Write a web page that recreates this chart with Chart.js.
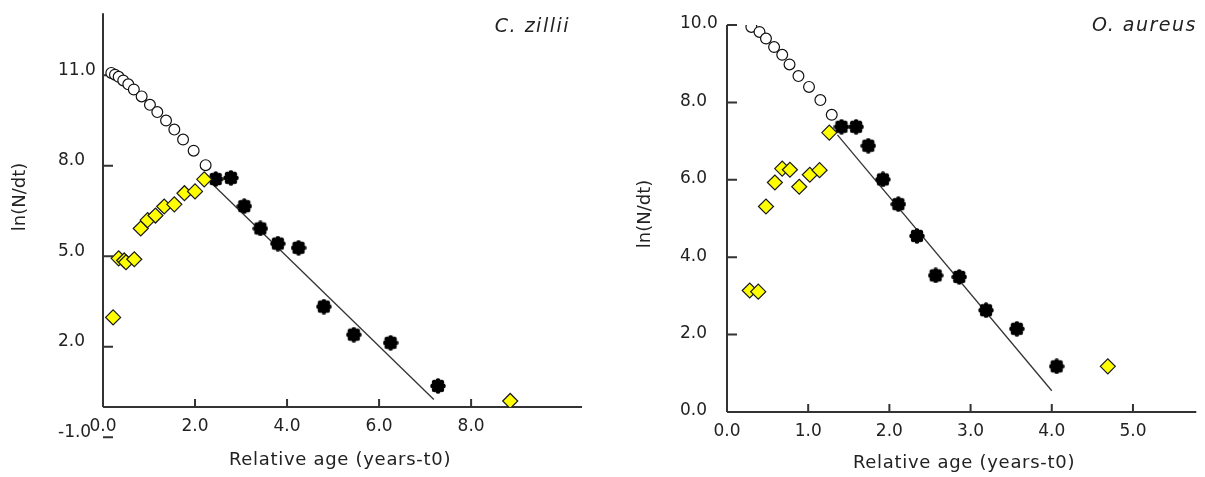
<!DOCTYPE html>
<html>
<head>
<meta charset="utf-8">
<title>Catch curves</title>
<script src="https://cdn.jsdelivr.net/npm/chart.js@4"></script>
<style>
  body { margin: 0; background: #fff; }
  .panel { position: absolute; top: 0; }
</style>
</head>
<body>
<div class="panel" style="left:0"><canvas id="zillii" width="600" height="477"></canvas></div>
<div class="panel" style="left:600px"><canvas id="aureus" width="605" height="477"></canvas></div>
<script>
// C. zillii
const czOpenX = [0.18, 0.26, 0.34, 0.44, 0.55, 0.67, 0.84, 1.02, 1.18, 1.37, 1.55, 1.74, 1.97, 2.23];
const czOpenY = [11.08, 11.02, 10.95, 10.83, 10.7, 10.53, 10.3, 10.02, 9.78, 9.5, 9.2, 8.87, 8.5, 8.02];
const czYellowX = [0.22, 0.34, 0.46, 0.5, 0.68, 0.82, 0.97, 1.14, 1.33, 1.55, 1.77, 2.0, 2.2, 8.85];
const czYellowY = [2.97, 4.93, 4.86, 4.8, 4.9, 5.92, 6.2, 6.35, 6.65, 6.72, 7.09, 7.15, 7.55, 0.2];
const czBlackX = [2.45, 2.78, 3.07, 3.42, 3.8, 4.25, 4.8, 5.45, 6.25, 7.28];
const czBlackY = [7.56, 7.6, 6.66, 5.92, 5.42, 5.28, 3.33, 2.4, 2.13, 0.7];
const czFitX = [2.36, 7.19];
const czFitY = [7.42, 0.25];
const czXTicks = [0, 2, 4, 6, 8];
const czYTicks = [-1, 2, 5, 8, 11];

// O. aureus
const oaOpenX = [0.3, 0.4, 0.48, 0.58, 0.68, 0.77, 0.88, 1.01, 1.15, 1.29];
const oaOpenY = [9.95, 9.82, 9.65, 9.43, 9.23, 8.98, 8.68, 8.4, 8.06, 7.68];
const oaYellowX = [0.28, 0.385, 0.48, 0.59, 0.68, 0.775, 0.89, 1.02, 1.14, 1.26, 4.69];
const oaYellowY = [3.14, 3.11, 5.31, 5.93, 6.29, 6.26, 5.82, 6.13, 6.25, 7.22, 1.18];
const oaBlackX = [1.41, 1.59, 1.74, 1.92, 2.11, 2.34, 2.57, 2.86, 3.19, 3.57, 4.06];
const oaBlackY = [7.37, 7.37, 6.88, 6.01, 5.37, 4.55, 3.53, 3.49, 2.63, 2.15, 1.18];
const oaFitX = [1.36, 4.0];
const oaFitY = [7.16, 0.55];
const oaXTicks = [0, 1, 2, 3, 4, 5];
const oaYTicks = [0, 2, 4, 6, 8, 10];

const TEXT = "#222";
const AXIS = "#333";
const tickFont = { family: "DejaVu Sans", size: 17 };

const pts = (xs, ys) => xs.map((x, i) => ({ x, y: ys[i] }));

// black marker: filled disc with a bumpy rim
function blob() {
  const c = document.createElement("canvas");
  c.width = c.height = 16;
  const g = c.getContext("2d");
  g.fillStyle = "#000";
  g.beginPath(); g.arc(8, 8, 5.8, 0, 2 * Math.PI); g.fill();
  for (let i = 0; i < 8; i++) {
    const a = i * Math.PI / 4;
    g.beginPath(); g.arc(8 + 5.2 * Math.cos(a), 8 + 5.2 * Math.sin(a), 2.5, 0, 2 * Math.PI); g.fill();
  }
  return c;
}
const BLOB = blob();

// axis lines with inward ticks, axis titles, species name
const frame = {
  id: "frame",
  beforeDatasetsDraw(chart, args, o) {
    const { ctx, chartArea: a, scales: { x, y } } = chart;
    const y0 = y.getPixelForValue(0);
    ctx.save();
    ctx.strokeStyle = AXIS;
    ctx.lineWidth = 2;
    ctx.beginPath();
    ctx.moveTo(a.left, y0); ctx.lineTo(a.right, y0);
    ctx.moveTo(a.left, a.top); ctx.lineTo(a.left, y0);
    x.ticks.forEach(t => {
      if (t.value === 0) return;
      const px = x.getPixelForValue(t.value);
      ctx.moveTo(px, y0); ctx.lineTo(px, y0 - 8);
    });
    y.ticks.forEach(t => {
      const py = y.getPixelForValue(t.value);
      ctx.moveTo(a.left, py); ctx.lineTo(a.left + 10, py);
    });
    ctx.stroke();

    ctx.fillStyle = TEXT;
    ctx.textBaseline = "middle";
    ctx.textAlign = "center";
    ctx.font = '18px "DejaVu Sans"';
    ctx.letterSpacing = "0.7px";
    ctx.fillText("Relative age (years-t0)", o.xTitle[0], o.xTitle[1]);
    ctx.letterSpacing = "0px";
    ctx.save();
    ctx.translate(o.yTitle[0], o.yTitle[1]);
    ctx.rotate(-Math.PI / 2);
    ctx.fillText("ln(N/dt)", 0, 0);
    ctx.restore();
    ctx.textAlign = "right";
    ctx.font = 'italic 19px "DejaVu Sans"';
    ctx.letterSpacing = "1.5px";
    ctx.fillText(o.species, o.speciesAt[0], o.speciesAt[1]);
    ctx.restore();
  }
};

function makeChart(id, d) {
  return new Chart(document.getElementById(id), {
    type: "scatter",
    data: {
      datasets: [
        { data: pts(d.yellowX, d.yellowY), pointStyle: "rectRot", pointRadius: 7.5,
          backgroundColor: "#ffff00", borderColor: "#1a1a1a", borderWidth: 1.2, order: 1 },
        { data: pts(d.blackX, d.blackY), pointStyle: BLOB, pointRadius: 7, order: 2 },
        { data: pts(d.openX, d.openY), pointStyle: "circle", pointRadius: 5.4,
          backgroundColor: "#fff", borderColor: "#111", borderWidth: 1.2, order: 3 },
        { data: pts(d.fitX, d.fitY), showLine: true, pointRadius: 0,
          borderColor: "#333", borderWidth: 1.3, order: 4 },
      ],
    },
    options: {
      responsive: false,
      animation: false,
      events: [],
      layout: { padding: d.pad },
      plugins: {
        legend: { display: false },
        tooltip: { enabled: false },
        frame: d.frame,
      },
      scales: {
        x: {
          type: "linear",
          min: d.xRange[0], max: d.xRange[1],
          position: "bottom",
          border: { display: false },
          grid: { display: false, drawTicks: false },
          ticks: { font: tickFont, color: TEXT, padding: 9, autoSkip: false, maxRotation: 0,
                   callback: v => v.toFixed(1) },
          afterBuildTicks: s => { s.ticks = d.xTicks.map(v => ({ value: v })); },
          afterFit: s => { s.height = d.xHeight; },
        },
        y: {
          type: "linear",
          min: d.yRange[0], max: d.yRange[1],
          border: { display: false },
          grid: { display: false, drawTicks: false },
          ticks: { font: tickFont, color: TEXT, crossAlign: "far", autoSkip: false,
                   labelOffset: d.yLabelOffset, callback: v => v.toFixed(1) },
          afterBuildTicks: s => { s.ticks = d.yTicks.map(v => ({ value: v })); },
          afterFit: s => { s.width = d.yWidth; },
        },
      },
    },
    plugins: [frame],
  });
}

// the -1.0 tick of C. zillii sits just below the visible range, as in the source figure
makeChart("zillii", {
  openX: czOpenX, openY: czOpenY, yellowX: czYellowX, yellowY: czYellowY,
  blackX: czBlackX, blackY: czBlackY, fitX: czFitX, fitY: czFitY,
  xTicks: czXTicks, yTicks: czYTicks,
  xRange: [0, 10.41], yRange: [0, 13.06],
  pad: { left: 58, right: 18, top: 10, bottom: 0 },
  xHeight: 70, yWidth: 45, yLabelOffset: -5,
  frame: { xTitle: [340, 460], yTitle: [20, 197], species: "C. zillii", speciesAt: [570, 27] },
});

makeChart("aureus", {
  openX: oaOpenX, openY: oaOpenY, yellowX: oaYellowX, yellowY: oaYellowY,
  blackX: oaBlackX, blackY: oaBlackY, fitX: oaFitX, fitY: oaFitY,
  xTicks: oaXTicks, yTicks: oaYTicks,
  xRange: [0, 5.78], yRange: [0, 10],
  pad: { left: 80, right: 5, top: 25, bottom: 0 },
  xHeight: 65, yWidth: 47, yLabelOffset: -1,
  frame: { xTitle: [364, 463], yTitle: [45, 214], species: "O. aureus", speciesAt: [597, 26] },
});
</script>
</body>
</html>
